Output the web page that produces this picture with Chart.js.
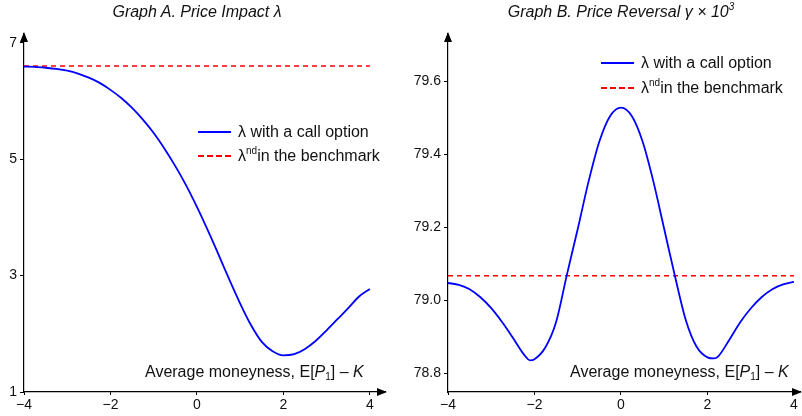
<!DOCTYPE html>
<html>
<head>
<meta charset="utf-8">
<script src="https://cdn.jsdelivr.net/npm/chart.js@4/dist/chart.umd.min.js"></script>
<style>
  html, body { margin: 0; padding: 0; background: #fff; }
  #wrap { position: relative; width: 802px; height: 416px; overflow: hidden; font-family: "Liberation Sans", Arial, Helvetica, sans-serif; color: #111; }
  canvas { position: absolute; top: 0; }
  .title { position: absolute; top: 3px; font-size: 16px; font-style: italic; white-space: nowrap; transform: translateX(-50%); }
  .leg { position: absolute; font-size: 16px; white-space: nowrap; }
  .row { position: absolute; left: 0; height: 18px; line-height: 18px; }
  .samp { position: absolute; left: 0; width: 33px; top: 8px; height: 0; }
  .txt { position: absolute; left: 40px; top: 0; }
  .ann { position: absolute; font-size: 16px; white-space: nowrap; }
  sup { font-size: 10px; vertical-align: 7px; line-height: 0; }
  sub { font-size: 10px; vertical-align: -3px; line-height: 0; }
</style>
</head>
<body>
<div id="wrap">
  <canvas id="cA" width="400" height="416" style="left:0;width:400px;height:416px"></canvas>
  <canvas id="cB" width="402" height="416" style="left:400px;width:402px;height:416px"></canvas>
  <div class="title" style="left:197px">Graph A. Price Impact λ</div>
  <div class="title" style="left:621px">Graph B. Price Reversal <i>γ</i> × 10<sup>3</sup></div>
  <div class="leg" style="left:198px;top:123px">
    <div class="row" style="top:0"><div class="samp" style="border-top:2px solid #0000ff"></div><div class="txt">λ with a call option</div></div>
    <div class="row" style="top:24px"><div class="samp" style="border-top:2px dashed #ff0000"></div><div class="txt">λ<sup>nd</sup>in the benchmark</div></div>
  </div>
  <div class="leg" style="left:601px;top:54px">
    <div class="row" style="top:0"><div class="samp" style="border-top:2px solid #0000ff"></div><div class="txt">λ with a call option</div></div>
    <div class="row" style="top:25px"><div class="samp" style="border-top:2px dashed #ff0000"></div><div class="txt">λ<sup>nd</sup>in the benchmark</div></div>
  </div>
  <div class="ann" style="left:145px;top:363px">Average moneyness, E[<i>P</i><sub>1</sub>] – <i>K</i></div>
  <div class="ann" style="left:570px;top:363px">Average moneyness, E[<i>P</i><sub>1</sub>] – <i>K</i></div>
</div>
<script>
// ---- data ----
const xTicks = [-4, -2, 0, 2, 4];
const yTicksA = [1, 3, 5, 7];
const yTicksB = [78.8, 79.0, 79.2, 79.4, 79.6];

const moneynessA = [-4, -3.75, -3.5, -3.25, -3, -2.75, -2.5, -2.25, -2, -1.75, -1.5, -1.25, -1, -0.75, -0.5, -0.25, 0, 0.25, 0.5, 0.75, 1, 1.25, 1.5, 1.75, 2, 2.25, 2.5, 2.75, 3, 3.25, 3.5, 3.75, 4];
const lambdaCall = [6.59, 6.585, 6.57, 6.55, 6.52, 6.47, 6.40, 6.31, 6.19, 6.05, 5.88, 5.68, 5.45, 5.18, 4.88, 4.55, 4.18, 3.78, 3.36, 2.93, 2.52, 2.15, 1.86, 1.70, 1.63, 1.65, 1.74, 1.88, 2.06, 2.25, 2.44, 2.64, 2.77];
const lambdaBench = [6.6, 6.6];
const benchX = [-4, 4];

const moneynessB = [-4, -3.75, -3.5, -3.25, -3, -2.75, -2.5, -2.25, -2.1, -2, -1.75, -1.5, -1.25, -1, -0.75, -0.5, -0.25, 0, 0.25, 0.5, 0.75, 1, 1.25, 1.5, 1.75, 2, 2.15, 2.25, 2.5, 2.75, 3, 3.25, 3.5, 3.75, 4];
const gammaCall = [79.047, 79.042, 79.030, 79.008, 78.978, 78.940, 78.897, 78.852, 78.835, 78.838, 78.870, 78.94, 79.07, 79.195, 79.325, 79.435, 79.505, 79.528, 79.505, 79.435, 79.325, 79.195, 79.065, 78.945, 78.872, 78.843, 78.840, 78.846, 78.89, 78.938, 78.977, 79.008, 79.030, 79.043, 79.050];
const gammaBench = [79.067, 79.067];

// ---- helpers ----
const FONT = { family: '"Liberation Sans", Arial, Helvetica, sans-serif', size: 14 };
const arrowPlugin = {
  id: 'arrows',
  afterDraw(chart) {
    const { ctx, chartArea } = chart;
    const x0 = chart.scales.x.left, yb = chart.scales.y.bottom;
    ctx.save();
    ctx.fillStyle = '#000';
    ctx.beginPath();
    ctx.moveTo(x0, chartArea.top - 2);
    ctx.lineTo(x0 - 4, chartArea.top + 8);
    ctx.lineTo(x0 + 4, chartArea.top + 8);
    ctx.closePath(); ctx.fill();
    ctx.beginPath();
    ctx.moveTo(chartArea.right + 2, yb);
    ctx.lineTo(chartArea.right - 8, yb - 4);
    ctx.lineTo(chartArea.right - 8, yb + 4);
    ctx.closePath(); ctx.fill();
    ctx.restore();
  }
};

function makeChart(id, xs, ys, bench, yTicks, yMin, yMax, xMax, yWidth, padRight, decimals) {
  return new Chart(document.getElementById(id), {
    type: 'line',
    data: {
      datasets: [
        { data: xs.map((x, i) => ({ x, y: ys[i] })), borderColor: '#0000ff', borderWidth: 1.8, pointRadius: 0, cubicInterpolationMode: 'monotone', fill: false },
        { data: benchX.map((x, i) => ({ x, y: bench[i] })), borderColor: '#ff0000', borderWidth: 1.5, borderDash: [5, 4], pointRadius: 0, fill: false }
      ]
    },
    options: {
      responsive: false,
      animation: false,
      devicePixelRatio: 1,
      layout: { padding: { top: 34, right: padRight, left: 0, bottom: 0 } },
      plugins: { legend: { display: false }, tooltip: { enabled: false }, title: { display: false } },
      scales: {
        x: {
          type: 'linear', min: -4, max: xMax,
          afterBuildTicks: s => { s.ticks = xTicks.map(v => ({ value: v })); },
          afterFit: s => { s.height = 24; },
          border: { color: '#000', width: 1.2 },
          grid: { drawOnChartArea: false, drawTicks: true, tickLength: 3, color: '#000' },
          ticks: { color: '#111', font: FONT, padding: 2, maxRotation: 0, callback: v => (v < 0 ? '\u2212' + Math.abs(v) : String(v)) }
        },
        y: {
          type: 'linear', min: yMin, max: yMax,
          afterBuildTicks: s => { s.ticks = yTicks.map(v => ({ value: v })); },
          afterFit: s => { s.width = yWidth; },
          border: { color: '#000', width: 1.2 },
          grid: { drawOnChartArea: false, drawTicks: true, tickLength: 4, color: '#000' },
          ticks: { color: '#111', font: FONT, padding: 3, callback: v => v.toFixed(decimals) }
        }
      }
    },
    plugins: [arrowPlugin]
  });
}

makeChart('cA', moneynessA, lambdaCall, lambdaBench, yTicksA, 1, 7.15, 4.35, 24, 15, 0);
makeChart('cB', moneynessB, gammaCall, gammaBench, yTicksB, 78.748, 79.73, 4.14, 48, 2, 1);
</script>
</body>
</html>
